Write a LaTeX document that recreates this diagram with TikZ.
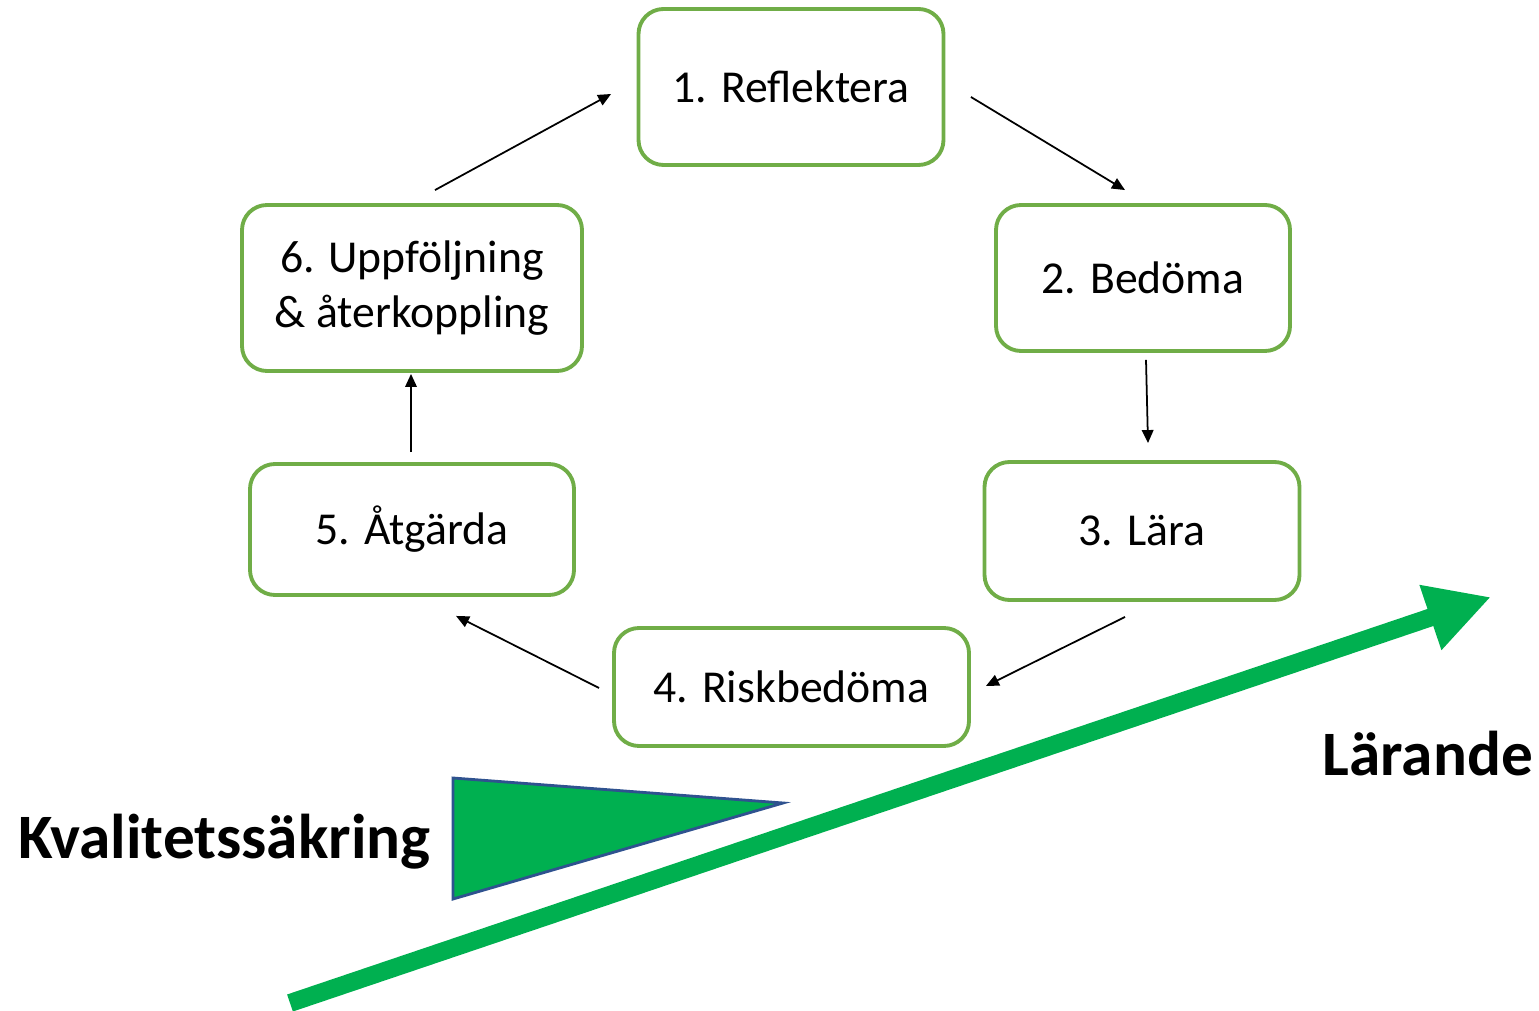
\documentclass[tikz,border=0pt]{standalone}
\usepackage{fontspec}
\setmainfont{Carlito}
\usetikzlibrary{arrows.meta}
\definecolor{boxgreen}{HTML}{70AD47}
\definecolor{arrowgreen}{HTML}{00B050}
\definecolor{edgeblue}{HTML}{2F528F}
\tikzstyle{stage}=[draw=boxgreen, line width=1.1pt, rounded corners=0.25cm, align=center, font=\fontsize{13}{15.6}\selectfont]
\tikzstyle{flow}=[-{Triangle[length=0.13cm, width=0.115cm]}, line width=0.5pt]
\tikzstyle{biglabel}=[inner sep=0pt, anchor=base west, font=\bfseries\fontsize{18}{22}\selectfont]

\begin{document}
\begin{tikzpicture}
    \useasboundingbox (0,0) rectangle (15.39,-10.11);
    \node[stage, minimum width=3.05cm, minimum height=1.56cm] (reflect) at (7.91,-0.87) {1. Reflektera};
    \node[stage, minimum width=2.94cm, minimum height=1.46cm] (assess) at (11.43,-2.78) {2. Bedöma};
    \node[stage, minimum width=3.15cm, minimum height=1.38cm] (learn) at (11.42,-5.31) {3. Lära};
    \node[stage, minimum width=3.55cm, minimum height=1.18cm] (risk) at (7.915,-6.87) {4. Riskbedöma};
    \node[stage, minimum width=3.24cm, minimum height=1.31cm] (act) at (4.12,-5.295) {5. Åtgärda};
    \node[stage, minimum width=3.40cm, minimum height=1.66cm] (follow) at (4.12,-2.88) {6. Uppföljning\\ \& återkoppling};
    \draw[flow] ([shift={(0.255,-0.10)}]reflect.east) -- ([shift={(-0.18,0.13)}]assess.north);
    \draw[flow] ([shift={(0.03,-0.07)}]assess.south) -- ([shift={(0.06,0.17)}]learn.north);
    \draw[flow] ([shift={(-0.17,-0.15)}]learn.south) -- ([shift={(0.15,0.01)}]risk.east);
    \draw[flow] ([shift={(-0.13,-0.01)}]risk.west) -- ([shift={(0.44,-0.19)}]act.south);
    \draw[flow] ([shift={(-0.01,0.10)}]act.north) -- ([shift={(-0.01,-0.01)}]follow.south);
    \draw[flow] ([shift={(0.23,0.13)}]follow.north) -- ([shift={(-0.255,-0.07)}]reflect.west);
    % quality wedge and learning arrow
    \draw[fill=arrowgreen, draw=edgeblue, line width=0.8pt, line join=miter] (4.53,-7.78) -- (7.83,-8.03) -- (4.53,-8.99) -- cycle;
    \coordinate (lstart) at (2.90,-10.03);
    \coordinate (ltip) at (14.91,-5.97);
    \draw[arrowgreen, line width=0.18cm, -{Triangle[length=0.64cm, width=0.64cm]}] (lstart) -- (ltip);
    \node[biglabel] (quality) at (0.18,-8.58) {Kvalitetssäkring};
    \node[biglabel] (learning) at (13.22,-7.75) {Lärande};
\end{tikzpicture}
\end{document}
